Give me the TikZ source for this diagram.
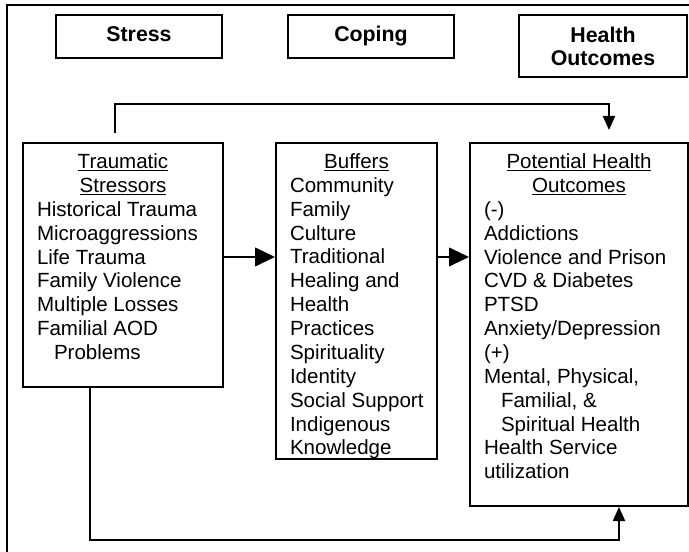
\documentclass[tikz,border=0pt]{standalone}
\usepackage{fontspec}
\setmainfont{Liberation Sans}
\usetikzlibrary{arrows.meta}

\newcommand{\itemfont}{\fontsize{15.4pt}{17.9pt}\selectfont}
\newcommand{\headfont}{\fontsize{16pt}{17.25pt}\selectfont\bfseries}

% column box: width, height, centred title, then the items
\newcommand{\listbox}[4]{\parbox[c][#2][t]{#1}{\itemfont\vspace*{8pt}%
  {\centering #3\par}%
  {\leftskip=10.5pt\rightskip=0pt plus 1fil #4\par}}}

\begin{document}
\begin{tikzpicture}[x=0.75pt,y=-0.75pt,
  box/.style={draw, line width=1.5pt, inner sep=0pt},
  head/.style={box, minimum height=32.25pt, align=center, font=\headfont},
  oneline/.style={text height=11.5pt, text depth=3.7pt},
  flow/.style={line width=1.5pt, -{Triangle[length=10.5pt,width=9pt]}},
  bigflow/.style={line width=1.5pt, -{Triangle[length=15pt,width=14pt]}}]
\useasboundingbox (0,0) rectangle (689,552);
% frame
\draw [line width=1.5pt] (7,552) -- (7,5) -- (689,5);

% headings
\node [head, oneline, minimum width=124.5pt] (stress) at (139,36.5) {Stress};
\node [head, oneline, minimum width=124.5pt] (coping) at (371,36.5) {Coping};
\node [head, minimum width=126pt, minimum height=46.5pt] (health) at (603,46) {Health\\Outcomes};

% columns
\node [box, anchor=north west] (trauma) at (22,142) {\listbox{150pt}{183pt}%
  {\underline{Traumatic}\\\underline{Stressors}}%
  {Historical Trauma\\Microaggressions\\Life Trauma\\Family Violence\\%
   Multiple Losses\\Familial AOD\\\hspace*{12.75pt}Problems}};
\node [box, anchor=north west] (buffers) at (275,142) {\listbox{120.75pt}{237pt}%
  {\underline{Buffers}}%
  {Community\\Family\\Culture\\Traditional\\Healing and\\Health\\Practices\\%
   Spirituality\\Identity\\Social Support\\Indigenous\\Knowledge}};
\node [box, anchor=north west] (outcomes) at (469,142) {\listbox{163.5pt}{272.25pt}%
  {\underline{Potential Health}\\\underline{Outcomes}}%
  {(-)\\Addictions\\Violence and Prison\\CVD \& Diabetes\\PTSD\\Anxiety/Depression\\(+)\\%
   Mental, Physical,\\\hspace*{12.75pt}Familial, \&\\\hspace*{12.75pt}Spiritual Health\\%
   Health Service\\utilization}};

% arrows
\coordinate (mid) at (0,257);
\draw [bigflow] (mid -| trauma.east) -- (mid -| buffers.west);
\draw [bigflow] (mid -| buffers.east) -- (mid -| outcomes.west);
\draw [flow, shorten <=6.75pt, shorten >=9pt] ([xshift=-6pt]trauma.north) -- ++(0,-38)
  -| ([xshift=22.5pt]outcomes.north);
\draw [flow] ([xshift=-24.75pt]trauma.south) -- ++(0,152) -| ([xshift=30pt]outcomes.south);
\end{tikzpicture}
\end{document}
